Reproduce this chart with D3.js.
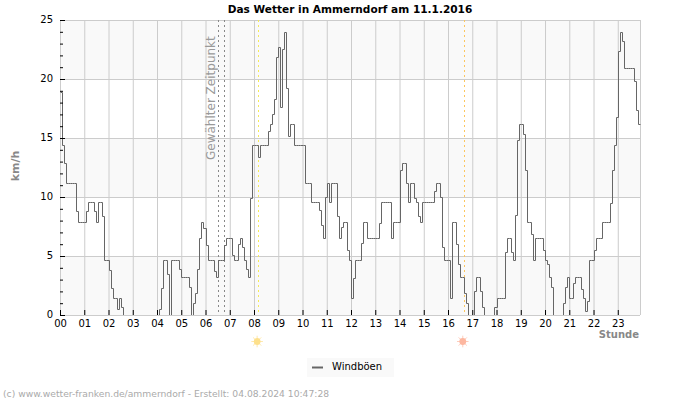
<!DOCTYPE html>
<html>
<head>
<meta charset="utf-8">
<script src="https://cdn.jsdelivr.net/npm/d3@7"></script>
<style>
  html, body { margin: 0; padding: 0; background: #fff; }
  text { font-family: "DejaVu Sans", sans-serif; }
</style>
</head>
<body>
<div id="chart"></div>
<script>
// Windboeen in km/h, one value every 5 minutes from 00:00 to 23:55
const windboeen = [
  18.9, 14.4, 12.9, 11.2, 11.2, 11.2, 11.2, 11.2, 8.8, 7.9, 7.9, 7.9,
  7.9, 8.8, 9.6, 9.6, 9.6, 8.8, 7.9, 9.6, 9.6, 8.4, 4.7, 4.7,
  3.8, 2.3, 1.4, 1.4, 0.5, 1.4, 0.7, 0, 0, 0, 0, 0,
  0, 0, 0, 0, 0, 0, 0, 0, 0, 0, 0, 0,
  0, 0.5, 2.3, 4.7, 4.7, 3.5, 0, 4.7, 4.7, 4.7, 4.7, 3.9,
  3.2, 3.2, 3.2, 3.2, 2.4, 0, 1.0, 1.9, 3.9, 6.5, 7.9, 7.4,
  5.9, 4.7, 4.7, 4.7, 3.7, 3.2, 4.7, 4.7, 4.7, 5.9, 6.5, 6.5,
  6.5, 5.1, 4.7, 4.7, 6.0, 6.5, 5.8, 4.7, 3.9, 3.2, 9.9, 14.4,
  14.4, 14.4, 13.4, 14.4, 14.4, 14.4, 14.4, 15.6, 16.2, 17.0, 18.3, 21.9,
  22.7, 17.6, 22.5, 24, 19.2, 15.2, 16.2, 16.2, 14.4, 14.4, 14.4, 14.4,
  14.4, 11.2, 11.2, 11.2, 9.6, 9.6, 9.6, 9.6, 8.9, 7.6, 6.5, 10,
  11.2, 9.6, 11.2, 11.2, 11.2, 8.4, 6.5, 7.5, 7.9, 7.9, 5.5, 4.7,
  1.4, 3.1, 4.7, 4.7, 4.7, 6.1, 7.9, 7.9, 6.5, 6.5, 6.5, 6.5,
  6.5, 6.5, 7.8, 9.6, 9.6, 9.6, 9.6, 9.6, 6.5, 7.9, 7.9,
  7.9, 12.3, 12.9, 12.9, 11.2, 9.6, 11.2, 11.2, 9.9, 9.6, 8.4, 7.9,
  9.6, 9.6, 9.6, 9.6, 9.6, 9.6, 10.5, 11.2, 11.2, 10, 5.8, 4.7,
  4.7, 4.7, 1.4, 7.9, 7.9, 6.0, 4.3, 3.2, 3.2, 1.9, 1, 0,
  0, 0, 2, 3.2, 3.2, 2, 0.7, 0, 0, 0, 0, 0,
  0.7, 1.4, 1.4, 1.4, 1.4, 5.3, 6.5, 6.5, 5.3, 4.7, 8.5, 14.8,
  16.2, 16.2, 15.3, 12.3, 7.9, 7.9, 6.9, 4.7, 6.5, 6.5, 6.5, 6.5,
  5.5, 4.7, 4.3, 3.2, 2.4, 0, 0, 0, 0, 0, 1, 2.4,
  3.2, 1.4, 1.4, 2.7, 3.2, 3.2, 3.2, 2.2, 1.4, 0.3, 1.2, 4.7,
  4.7, 5.5, 6.5, 6.5, 6.5, 7.9, 7.9, 7.9, 7.9, 9.5, 12.3, 14.4,
  16.8, 22.4, 24, 23.2, 20.9, 20.9, 20.9, 20.9, 20.9, 19.8, 17.4, 16.2,
  16.2
];
const stundenTicks = d3.range(0, 24);
const kmhTicks = [0, 5, 10, 15, 20, 25];
const kmhMinor = d3.range(0, 25);
const baender = [[0, 5], [10, 15], [20, 25]];
const zeitpunkt = [6.51, 6.75];
const sonnenaufgang = 8.17;
const sonnenuntergang = 16.65;

const width = 700, height = 400;
const ende = (windboeen.length - 1) / 12;
const x = d3.scaleLinear().domain([0, ende]).range([60, 640]);
const y = d3.scaleLinear().domain([0, 25]).range([315, 20]);

const svg = d3.select('#chart').append('svg')
  .attr('width', width)
  .attr('height', height)
  .style('display', 'block');

svg.append('defs').append('clipPath')
  .attr('id', 'plot-clip')
  .append('rect')
  .attr('x', x(0))
  .attr('y', y(25))
  .attr('width', x(ende) - x(0) + 1)
  .attr('height', y(0) - y(25));

// grey bands
svg.append('g').selectAll('rect')
  .data(baender)
  .enter()
  .append('rect')
  .attr('x', x(0))
  .attr('width', x(ende) - x(0))
  .attr('y', (d) => y(d[1]))
  .attr('height', (d) => y(d[0]) - y(d[1]))
  .attr('fill', '#f9f9f9');

// grid
svg.append('g')
  .attr('class', 'grid')
  .attr('transform', 'translate(0,' + y(0) + ')')
  .call(d3.axisBottom(x).tickValues(stundenTicks.concat([ende])).tickSize(y(25) - y(0)).tickFormat(''))
  .call((g) => g.select('.domain').remove());
svg.append('g')
  .attr('class', 'grid')
  .attr('transform', 'translate(' + x(0) + ',0)')
  .call(d3.axisLeft(y).tickValues(kmhTicks).tickSize(x(0) - x(ende)).tickFormat(''))
  .call((g) => g.select('.domain').remove());
svg.selectAll('.grid line').attr('stroke', '#ccc');

// marker lines
const marker = (stunde, color, dash) => svg.append('line')
  .attr('x1', Math.round(x(stunde)) + 0.5)
  .attr('x2', Math.round(x(stunde)) + 0.5)
  .attr('y1', y(25))
  .attr('y2', y(0))
  .attr('stroke', color)
  .attr('stroke-dasharray', dash);

zeitpunkt.forEach((d) => marker(d, '#888', '2,3'));
marker(sonnenaufgang, '#f5ea5a', '2,3');
marker(sonnenuntergang, '#fbc65f', '2,3');

svg.append('text')
  .attr('transform', 'translate(215,160) rotate(-90)')
  .attr('font-size', 12)
  .attr('fill', '#999')
  .text('Gewählter Zeitpunkt');

// the line, clipped just above the axis so zero values disappear
const line = d3.line()
  .x((d, i) => Math.round(x(i / 12)) + 0.5)
  .y((d) => Math.round(y(d)) + 0.5)
  .curve(d3.curveStepAfter);

svg.append('path')
  .datum(windboeen)
  .attr('clip-path', 'url(#plot-clip)')
  .attr('fill', 'none')
  .attr('stroke', '#666')
  .attr('stroke-width', 1)
  .attr('d', line);

// axes with inward ticks
const xAxis = svg.append('g')
  .attr('transform', 'translate(0,' + y(0) + ')')
  .call(d3.axisBottom(x)
    .tickValues(stundenTicks)
    .tickSize(-5)
    .tickPadding(4.5)
    .tickFormat((d) => d3.format('02d')(d)));
xAxis.select('.domain').remove();

const yMinor = svg.append('g')
  .attr('transform', 'translate(' + x(0) + ',0)')
  .call(d3.axisLeft(y).tickValues(kmhMinor).tickSize(-3).tickFormat(''));
yMinor.select('.domain').remove();

const yAxis = svg.append('g')
  .attr('transform', 'translate(' + x(0) + ',0)')
  .call(d3.axisLeft(y).tickValues(kmhTicks).tickSize(-5).tickPadding(7));
yAxis.select('.domain').remove();
yAxis.selectAll('text').attr('dy', '0.22em');

svg.selectAll('g text').attr('font-family', '"DejaVu Sans", sans-serif').attr('font-size', 10);
xAxis.selectAll('text').attr('fill', '#000');

// sun symbols
const sonne = (stunde, color) => {
  const g = svg.append('g')
    .attr('transform', 'translate(' + (x(stunde) - 1) + ',341.5)');
  g.selectAll('line')
    .data(d3.range(0, 360, 45))
    .enter()
    .append('line')
    .attr('x2', (d) => 5.8 * Math.cos(d * Math.PI / 180))
    .attr('y2', (d) => 5.8 * Math.sin(d * Math.PI / 180))
    .attr('stroke', color)
    .attr('stroke-opacity', 0.7);
  g.append('circle')
    .attr('r', 3.4)
    .attr('fill', color);
};
sonne(sonnenaufgang, '#fde08c');
sonne(sonnenuntergang, '#fdb7a0');

// texts
svg.append('text')
  .attr('x', 350)
  .attr('y', 12.5)
  .attr('text-anchor', 'middle')
  .attr('font-size', 10.55)
  .attr('font-weight', 'bold')
  .attr('fill', '#000')
  .text('Das Wetter in Ammerndorf am 11.1.2016');

svg.append('text')
  .attr('transform', 'translate(19,166) rotate(-90)')
  .attr('text-anchor', 'middle')
  .attr('font-size', 11)
  .attr('font-weight', 'bold')
  .attr('fill', '#888')
  .text('km/h');

svg.append('text')
  .attr('x', 639)
  .attr('y', 338)
  .attr('text-anchor', 'end')
  .attr('font-size', 10)
  .attr('font-weight', 'bold')
  .attr('fill', '#888')
  .text('Stunde');

// legend
svg.append('rect')
  .attr('x', 307)
  .attr('y', 358)
  .attr('width', 87)
  .attr('height', 19)
  .attr('fill', '#f9f9f9');
svg.append('line')
  .attr('x1', 312)
  .attr('x2', 323)
  .attr('y1', 367.5)
  .attr('y2', 367.5)
  .attr('stroke', '#666')
  .attr('stroke-width', 2);
svg.append('text')
  .attr('x', 332)
  .attr('y', 370)
  .attr('font-size', 10)
  .attr('fill', '#000')
  .text('Windböen');

svg.append('text')
  .attr('x', 3)
  .attr('y', 397)
  .attr('font-size', 9.2)
  .attr('fill', '#aaa')
  .text('(c) www.wetter-franken.de/ammerndorf - Erstellt: 04.08.2024 10:47:28');
</script>
</body>
</html>
